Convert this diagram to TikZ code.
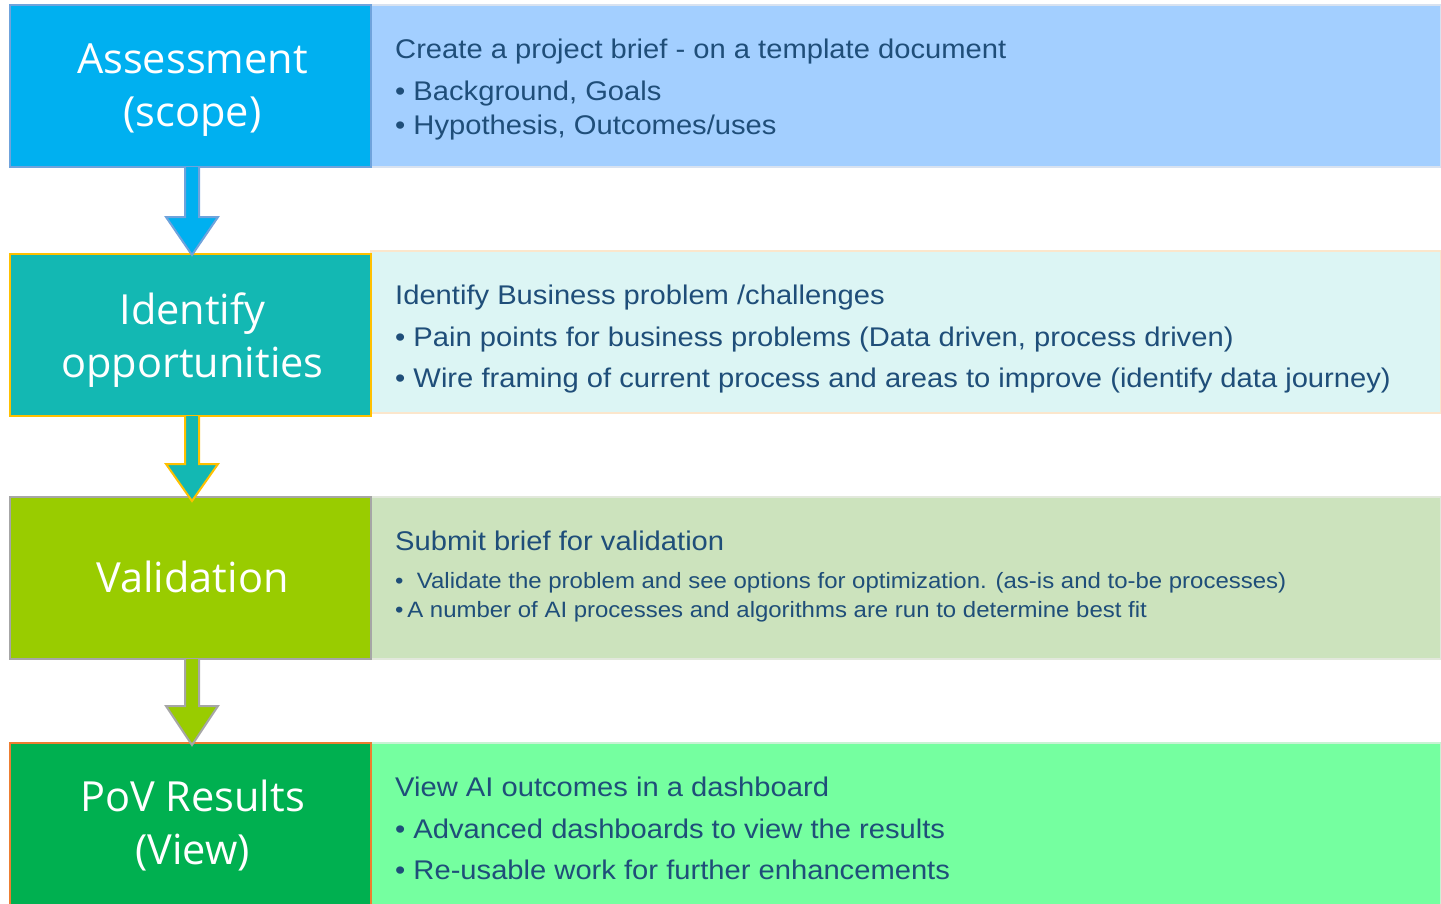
\documentclass[tikz,border=0pt]{standalone}
\usepackage{fontspec}
\setmainfont[FakeStretch=1.08]{Liberation Sans}
\newfontfamily\stagefont{Open Sans}
\usetikzlibrary{calc}
\definecolor{fA}{HTML}{00B0F0}
\definecolor{bA}{HTML}{6FA3DC}
\definecolor{fB}{HTML}{13B8B3}
\definecolor{bB}{HTML}{FFC000}
\definecolor{fC}{HTML}{99CC00}
\definecolor{bC}{HTML}{A6A6A6}
\definecolor{fD}{HTML}{00B050}
\definecolor{bD}{HTML}{ED7D31}
\definecolor{rA}{HTML}{A3CFFF}
\definecolor{rAb}{HTML}{D8E2F0}
\definecolor{rB}{HTML}{DCF5F4}
\definecolor{rBb}{HTML}{FBE6CC}
\definecolor{rC}{HTML}{CCE3BD}
\definecolor{rCb}{HTML}{E2E8DC}
\definecolor{rD}{HTML}{75FFA0}
\definecolor{rDb}{HTML}{C9F2D4}
\definecolor{txtblue}{HTML}{1F4E79}
\tikzset{
  stage/.style={rectangle, inner sep=0pt, line width=2pt, minimum width=361pt, minimum height=162pt},
  stagetext/.style={inner sep=0pt, text=white, align=center, font=\stagefont\fontsize{41.5}{53}\selectfont},
  detail/.style={rectangle, inner sep=0pt, line width=2pt, minimum width=1070pt, minimum height=162pt},
  txt/.style={anchor=base west, inner sep=0pt, text=txtblue, font=\fontsize{27}{30}\selectfont},
  smalltxt/.style={txt, font=\fontsize{22.2}{26}\selectfont},
  flow/.style={line width=2pt, line join=miter}
}
\begin{document}
\begin{tikzpicture}[x=1pt,y=-1pt]
\useasboundingbox (0,0) rectangle (1441,903);
\clip (0,0) rectangle (1441,903);
% right detail boxes
\node[detail, fill=rA, draw=rAb] (d1) at (906,86) {};
\node[detail, fill=rB, draw=rBb] (d2) at (906,332) {};
\node[detail, fill=rC, draw=rCb] (d3) at (906,578) {};
\node[detail, fill=rD, draw=rDb] (d4) at (906,824) {};
% left stage boxes
\node[stage, fill=fA, draw=bA] (s1) at (190.5,86) {};
\node[stage, fill=fB, draw=bB] (s2) at (190.5,335) {};
\node[stage, fill=fC, draw=bC] (s3) at (190.5,578) {};
\node[stage, fill=fD, draw=bD] (s4) at (190.5,824) {};
\node[stagetext] (l1) at ($(s1.center)+(2,4)$) {Assessment\\(scope)};
\node[stagetext] (l2) at ($(s2.center)+(2,5)$) {Identify\\opportunities};
\node[stagetext] (l3) at ($(s3.center)+(2,-1)$) {Validation};
\node[stagetext] (l4) at ($(s4.center)+(2,2)$) {PoV Results\\(View)};
% arrows
\draw[flow, fill=fA, draw=bA] ($(s1.south)+(-5.5,-1)$) -- ($(s2.north)+(-5.5,-36)$) -- ($(s2.north)+(-24.5,-36)$) -- ($(s2.north)+(1.5,2)$) -- ($(s2.north)+(27.5,-36)$) -- ($(s2.north)+(8.5,-36)$) -- ($(s1.south)+(8.5,-1)$);
\draw[flow, fill=fB, draw=bB] ($(s2.south)+(-5.5,-1)$) -- ($(s3.north)+(-5.5,-32)$) -- ($(s3.north)+(-24.5,-32)$) -- ($(s3.north)+(1.5,5)$) -- ($(s3.north)+(27.5,-32)$) -- ($(s3.north)+(8.5,-32)$) -- ($(s2.south)+(8.5,-1)$);
\draw[flow, fill=fC, draw=bC] ($(s3.south)+(-5.5,-1)$) -- ($(s4.north)+(-5.5,-36)$) -- ($(s4.north)+(-24.5,-36)$) -- ($(s4.north)+(1.5,3)$) -- ($(s4.north)+(27.5,-36)$) -- ($(s4.north)+(8.5,-36)$) -- ($(s3.south)+(8.5,-1)$);
% texts row 1
\node[txt] (t1a) at (395,58) {Create a project brief - on a template document};
\node[txt] (t1b) at (395,100) {\textbullet\ Background, Goals};
\node[txt] (t1c) at (395,134) {\textbullet\ Hypothesis, Outcomes/uses};
% row 2
\node[txt] (t2a) at (395,304) {Identify Business problem /challenges};
\node[txt] (t2b) at (395,346) {\textbullet\ Pain points for business problems (Data driven, process driven)};
\node[txt] (t2c) at (395,387) {\textbullet\ Wire framing of current process and areas to improve (identify data journey)};
% row 3
\node[txt] (t3a) at (395,550) {Submit brief for validation};
\node[smalltxt] (t3b) at (395,588) {\textbullet\ \ Validate the problem and see options for optimization. (as-is and to-be processes)};
\node[smalltxt] (t3c) at (395,617) {\textbullet\,A number of AI processes and algorithms are run to determine best fit};
% row 4
\node[txt] (t4a) at (395,796) {View AI outcomes in a dashboard};
\node[txt] (t4b) at (395,838) {\textbullet\ Advanced dashboards to view the results};
\node[txt] (t4c) at (395,879) {\textbullet\ Re-usable work for further enhancements};
\end{tikzpicture}
\end{document}
